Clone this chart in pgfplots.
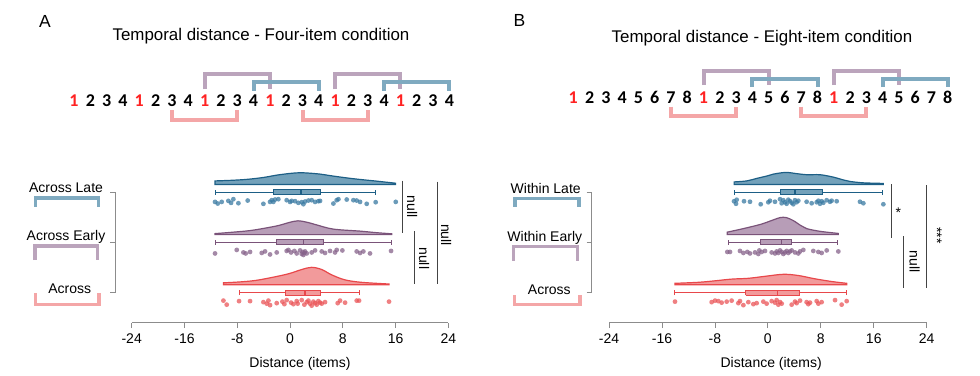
\documentclass[border=0pt]{standalone}
\usepackage{pgfplots}
\usepackage{pgfplotstable}
\pgfplotsset{compat=1.18}
\usepackage{fontspec}
\setmainfont{Liberation Sans}
\newfontfamily\seqfont{Carlito}

\definecolor{lateD}{HTML}{1D5F86}
\definecolor{lateF}{HTML}{73A1BA}
\definecolor{latePt}{HTML}{3A7AA2}
\definecolor{earlyD}{HTML}{7A5379}
\definecolor{earlyF}{HTML}{B79DB7}
\definecolor{earlyPt}{HTML}{86628A}
\definecolor{acrD}{HTML}{E8484B}
\definecolor{acrF}{HTML}{F29A9B}
\definecolor{acrPt}{HTML}{EA5558}
\definecolor{brBlue}{HTML}{7FAAC0}
\definecolor{brPurple}{HTML}{BBA4BC}
\definecolor{brPink}{HTML}{F4A6A7}
\definecolor{axisgray}{HTML}{8C8C8C}
\definecolor{seqred}{HTML}{FF2222}
\definecolor{siggray}{HTML}{444444}

% ---------- violin outlines (x, height in px) ----------
\pgfplotstableread{
x h
-11.37 3.5
-8.6 4.2
-6.3 5.2
-4.0 7.0
-2.0 9.3
0.0 11.0
1.6 11.7
3.5 11.0
4.6 10.3
6.6 8.3
9.6 5.7
13.1 3.3
16.0 1.2
}\vAL
\pgfplotstableread{
x h
-11.37 1.0
-8.0 2.8
-5.56 4.5
-2.02 8.7
-0.2 12.0
1.2 13.8
2.8 12.0
4.04 9.7
6.57 5.5
10.6 3.5
13.0 2.0
15.4 0.8
}\vAE
\pgfplotstableread{
x h
-10.1 2.0
-7.8 2.8
-5.3 4.3
-2.8 7.3
-0.25 11.0
1.77 15.3
3.28 17.5
4.8 15.3
6.3 10.0
8.3 5.0
10.8 2.5
15.0 0.8
}\vAA
\pgfplotstableread{
x h
-5.1 2.5
-3.2 3.5
-1.69 6.0
-0.1 8.5
0.83 10.3
2.7 12.0
4.35 10.8
5.86 9.7
7.88 9.7
9.9 7.3
11.4 4.5
12.4 3.0
14.4 1.6
17.45 1.0
}\vBL
\pgfplotstableread{
x h
-6.12 2.5
-3.7 6.0
-1.08 10.3
0.32 13.5
1.84 17.0
2.8 17.0
3.85 14.0
5.0 9.0
5.86 6.0
7.88 3.3
10.65 1.2
}\vBE
\pgfplotstableread{
x h
-14.03 1.5
-10.5 2.5
-7.98 4.0
-5.47 5.7
-2.95 6.5
-0.43 8.5
2.34 10.5
4.6 9.3
7.12 6.0
9.64 3.3
11.91 1.5
}\vBA

% ---------- individual points ----------
\pgfplotstableread{
x y
-11.37 1.807
-10.96 1.774
-10.36 1.807
-9.35 1.827
-8.94 1.788
-8.59 1.861
-7.83 1.781
-6.42 1.834
-4.04 1.768
-3.03 1.807
-2.78 1.841
-2.53 1.807
-2.27 1.854
-1.77 1.861
-0.51 1.841
0.00 1.807
0.25 1.827
0.76 1.821
1.26 1.788
1.77 1.801
2.02 1.761
2.27 1.814
2.78 1.834
3.28 1.841
3.79 1.807
4.29 1.821
4.55 1.827
6.57 1.774
7.07 1.841
7.33 1.861
8.59 1.854
9.60 1.841
10.10 1.834
10.61 1.807
11.62 1.768
12.98 1.801
16.02 1.807
}\pAL
\pgfplotstableread{
x y
-11.37 0.78
-8.08 0.85
-7.07 0.80
-6.72 0.78
-6.06 0.81
-4.29 0.79
-3.79 0.82
-3.03 0.76
-2.02 0.80
-0.51 0.83
-0.25 0.85
0.15 0.80
0.66 0.83
1.01 0.78
1.52 0.84
1.77 0.77
1.92 0.81
2.02 0.75
2.17 0.79
2.27 0.82
2.53 0.78
3.28 0.80
3.79 0.84
4.80 0.82
5.30 0.79
6.06 0.83
6.82 0.80
7.07 0.85
7.93 0.84
10.10 0.82
10.61 0.79
11.11 0.82
12.12 0.78
15.31 0.83
}\pAE
\pgfplotstableread{
x y
-10.10 -0.16
-9.60 -0.24
-7.73 -0.17
-6.06 -0.17
-4.04 -0.19
-3.54 -0.22
-3.28 -0.16
-3.03 -0.25
-2.02 -0.21
-1.16 -0.18
-0.86 -0.23
-0.51 -0.15
0.15 -0.20
0.51 -0.23
1.01 -0.17
1.16 -0.22
1.77 -0.15
2.17 -0.24
2.53 -0.19
2.78 -0.16
3.03 -0.22
3.28 -0.26
3.54 -0.18
3.79 -0.21
4.04 -0.24
4.29 -0.17
4.55 -0.20
4.80 -0.22
5.30 -0.19
7.22 -0.21
7.58 -0.16
8.34 -0.20
10.10 -0.16
10.46 -0.16
15.00 -0.18
}\pAA
\pgfplotstableread{
x y
-5.11 1.82
-4.81 1.77
-4.71 1.85
-3.60 1.82
-2.70 1.81
-1.08 1.76
0.07 1.80
0.32 1.83
1.08 1.81
1.84 1.86
2.09 1.78
2.34 1.84
2.59 1.80
2.84 1.77
3.09 1.85
3.35 1.82
3.60 1.79
3.85 1.76
4.10 1.84
4.35 1.80
4.60 1.83
5.86 1.81
6.62 1.78
7.38 1.80
7.63 1.83
7.88 1.77
8.13 1.82
8.38 1.79
8.89 1.84
9.39 1.81
9.64 1.83
10.40 1.82
13.92 1.81
14.43 1.78
17.45 1.76
}\pBL
\pgfplotstableread{
x y
-6.12 0.81
-5.72 0.81
-4.21 0.83
-3.70 0.79
-3.10 0.81
-2.70 0.78
-1.94 0.80
-1.44 0.77
-1.29 0.84
-0.93 0.81
-0.43 0.83
0.58 0.80
1.08 0.78
1.33 0.82
1.58 0.79
1.84 0.84
2.09 0.81
2.34 0.77
2.59 0.80
2.84 0.83
3.09 0.79
3.35 0.82
3.60 0.84
4.10 0.80
4.60 0.78
4.86 0.82
5.36 0.85
6.87 0.83
7.63 0.81
8.13 0.79
8.89 0.84
10.65 0.82
}\pBE
\pgfplotstableread{
x y
-14.03 -0.18
-8.49 -0.19
-7.98 -0.16
-7.48 -0.17
-6.98 -0.20
-6.22 -0.18
-5.47 -0.16
-4.46 -0.21
-4.21 -0.17
-3.70 -0.25
-2.95 -0.19
-2.19 -0.23
-1.69 -0.21
-0.68 -0.18
-0.18 -0.22
0.58 -0.17
1.08 -0.20
1.33 -0.15
1.58 -0.24
1.84 -0.19
2.09 -0.22
3.60 -0.24
4.10 -0.18
4.35 -0.21
4.86 -0.16
5.86 -0.19
6.11 -0.23
6.37 -0.20
7.38 -0.17
7.63 -0.22
8.13 -0.19
10.15 -0.15
11.15 -0.24
11.91 -0.17
}\pBA

\pgfplotsset{
  panel/.style={
    scale only axis, height=155.6pt,
    xmin=-24, xmax=24, ymin=-0.6, ymax=2.5,
    axis x line=bottom, axis y line=none,
    x axis line style={-, draw=axisgray, line width=0.8pt},
    xtick={-24,-16,-8,0,8,16,24},
    xticklabels={-24,-16,-8,0,8,16,24},
    tick align=outside, major tick length=5.5pt,
    tick style={draw=axisgray, line width=0.8pt},
    xticklabel style={font=\fontsize{14}{16}\selectfont, text=black, yshift=-1.5pt},
    xlabel={Distance (items)},
    clip=false, anchor=south west,
  },
  pts/.style={only marks, mark=*, mark size=2.4pt, color=#1,
    mark options={fill=#1, draw opacity=0, fill opacity=0.75}},
}

% violin: table, base, x0, x1, colour prefix
\newcommand{\violin}[5]{%
  \addplot[fill=#5F, draw=#5D, line width=1.2pt, smooth, tension=0.55]
    table[x=x, y expr=\thisrow{h}/50.2+#2] {#1}
    -- (axis cs:#4,#2) -- (axis cs:#3,#2) -- cycle;
}
% box: colour, centre, lower edge, upper edge, lw, lq, med, uq, uw
\newcommand{\bx}[9]{%
  \addplot[draw=#1D, line width=1pt] coordinates {(#5,#2) (#6,#2)};
  \addplot[draw=#1D, line width=1pt] coordinates {(#8,#2) (#9,#2)};
  \addplot[draw=#1D, line width=1pt] coordinates {(#5,#3) (#5,#4)};
  \addplot[draw=#1D, line width=1pt] coordinates {(#9,#3) (#9,#4)};
  \addplot[draw=#1D, fill=#1F, line width=1pt] coordinates {(#6,#3) (#8,#3) (#8,#4) (#6,#4) (#6,#3)};
  \addplot[draw=#1D, line width=1.2pt] coordinates {(#7,#3) (#7,#4)};
}

\begin{document}
\begin{tikzpicture}
\useasboundingbox (0pt,0pt) rectangle (980pt,-375pt);

% ================= Panel A =================
\begin{axis}[panel, width=316.7pt, at={(131.7pt,-322.7pt)},
  xlabel style={font=\fontsize{14}{16}\selectfont, at={(axis description cs:0.5315,0)}, anchor=base, yshift=-44.6pt}]
  \violin{\vAL}{2.155}{-11.37}{16.0}{late}
  \bx{late}{2}{1.95}{2.05}{-11.37}{-2.5}{1.67}{4.65}{13.0}
  \addplot[pts=latePt] table {\pAL};
  \violin{\vAE}{1.155}{-11.37}{15.4}{early}
  \bx{early}{1}{0.95}{1.05}{-11.37}{-2.02}{2.02}{5.05}{15.3}
  \addplot[pts=earlyPt] table {\pAE};
  \violin{\vAA}{0.155}{-10.1}{15.0}{acr}
  \bx{acr}{0}{-0.05}{0.05}{-7.73}{-0.76}{2.27}{4.65}{10.46}
  \addplot[pts=acrPt] table {\pAA};
\end{axis}

% ================= Panel B =================
\begin{axis}[panel, width=317.7pt, at={(609pt,-322.7pt)},
  xlabel style={font=\fontsize{14}{16}\selectfont, at={(axis description cs:0.5105,0)}, anchor=base, yshift=-44.6pt}]
  \violin{\vBL}{2.155}{-5.1}{17.45}{late}
  \bx{late}{2}{1.95}{2.05}{-5.11}{1.84}{4.1}{8.28}{17.35}
  \addplot[pts=latePt] table {\pBL};
  \violin{\vBE}{1.155}{-6.12}{10.65}{early}
  \bx{early}{1}{0.95}{1.05}{-5.97}{-1.08}{2.09}{3.6}{10.55}
  \addplot[pts=earlyPt] table {\pBE};
  \violin{\vBA}{0.155}{-14.03}{11.91}{acr}
  \bx{acr}{0}{-0.05}{0.05}{-14.03}{-3.35}{1.48}{4.71}{11.91}
  \addplot[pts=acrPt] table {\pBA};
\end{axis}

\begin{scope}[x=1pt,y=-1pt]
% ---------- panel letters and titles ----------
\node[anchor=base, font=\fontsize{17.5}{19}\selectfont] at (45,27.3) {A};
\node[anchor=base, font=\fontsize{17.5}{19}\selectfont] at (519.5,26.7) {B};
\node[anchor=base, font=\fontsize{16.9}{19}\selectfont] at (261,40.9) {Temporal distance - Four-item condition};
\node[anchor=base, font=\fontsize{16.9}{19}\selectfont] at (762,42.6) {Temporal distance - Eight-item condition};

% ---------- sequences ----------
\foreach \d [count=\i from 0] in {1,2,3,4,1,2,3,4,1,2,3,4,1,2,3,4,1,2,3,4,1,2,3,4}
  \node[anchor=base, inner sep=0pt, font=\seqfont\bfseries\fontsize{18}{19}\selectfont] at ({74+16.32*\i},106) {\ifnum\d=1 \color{seqred}\fi\d};
\foreach \d [count=\i from 0] in {1,2,3,4,5,6,7,8,1,2,3,4,5,6,7,8,1,2,3,4,5,6,7,8}
  \node[anchor=base, inner sep=0pt, font=\seqfont\bfseries\fontsize{18}{19}\selectfont] at ({573.3+16.28*\i},103.3) {\ifnum\d=1 \color{seqred}\fi\d};

\begin{scope}[line width=4pt, line cap=butt, line join=miter]
% panel A brackets
\draw[brPurple] (204.6,89.3)--(204.6,74)--(269.8,74)--(269.8,89.3);
\draw[brPurple] (335.1,89.3)--(335.1,74)--(400.4,74)--(400.4,89.3);
\draw[brBlue] (253.5,90.5)--(253.5,81.7)--(318.8,81.7)--(318.8,90.5);
\draw[brBlue] (384.1,90.5)--(384.1,81.7)--(449.4,81.7)--(449.4,90.5);
\draw[brPink] (171.9,110)--(171.9,119.5)--(237.2,119.5)--(237.2,110);
\draw[brPink] (302.5,110)--(302.5,119.5)--(367.8,119.5)--(367.8,110);
% panel B brackets
\draw[brPurple] (703.5,85)--(703.5,70.8)--(768.7,70.8)--(768.7,85);
\draw[brPurple] (833.8,85)--(833.8,70.8)--(898.9,70.8)--(898.9,85);
\draw[brBlue] (752.4,87)--(752.4,78.8)--(817.5,78.8)--(817.5,87);
\draw[brBlue] (882.6,87)--(882.6,78.8)--(947.7,78.8)--(947.7,87);
\draw[brPink] (671,106.5)--(671,116.3)--(736.1,116.3)--(736.1,106.5);
\draw[brPink] (801.2,106.5)--(801.2,116.3)--(866.3,116.3)--(866.3,106.5);
\end{scope}

% ---------- category labels ----------
\begin{scope}[font=\fontsize{14}{16}\selectfont]
\node[anchor=base] at (66,192.3) {Across Late};
\node[anchor=base] at (66,240.7) {Across Early};
\node[anchor=base] at (69.7,293.3) {Across};
\node[anchor=base] at (545.7,193.3) {Within Late};
\node[anchor=base] at (544.8,241.7) {Within Early};
\node[anchor=base] at (549.3,294) {Across};
\end{scope}
\begin{scope}[line width=3.5pt, line cap=butt, line join=miter]
\draw[brBlue] (35.3,206.7)--(35.3,197.8)--(98.7,197.8)--(98.7,206.7);
\draw[brPurple] (35,260)--(35,246)--(97.5,246)--(97.5,260);
\draw[brPink] (35.5,293.3)--(35.5,304.5)--(98.8,304.5)--(98.8,293.3);
\draw[brBlue] (515,206.7)--(515,198.3)--(579,198.3)--(579,206.7);
\draw[brPurple] (513.3,260.7)--(513.3,246.7)--(577.3,246.7)--(577.3,260.7);
\draw[brPink] (514.7,295)--(514.7,304.5)--(580,304.5)--(580,295);
\end{scope}

% ---------- category axes ----------
\begin{scope}[draw=axisgray, line width=0.8pt]
\draw (115,192.3)--(115,292.7);
\foreach \yy in {192.3,242,292.7} \draw (110,\yy)--(115,\yy);
\draw (591.7,192.3)--(591.7,292.7);
\foreach \yy in {192.3,242,292.7} \draw (586.7,\yy)--(591.7,\yy);
\end{scope}

% ---------- significance ----------
\begin{scope}[draw=siggray, line width=0.9pt]
\draw (402.3,180.7)--(402.3,232.7);
\draw (414.3,231)--(414.3,284.3);
\draw (437.7,181.7)--(437.7,284.3);
\draw (891.7,184)--(891.7,237.7);
\draw (903.3,236)--(903.3,288.3);
\draw (926.7,185)--(926.7,288.3);
\end{scope}
\begin{scope}[font=\fontsize{14}{16}\selectfont]
\node[rotate=-90] at (412,206.7) {null};
\node[rotate=-90] at (424,258.3) {null};
\node[rotate=-90] at (446,235) {null};
\node at (898.3,213) {*};
\node[rotate=-90] at (937,235.5) {***};
\node[rotate=-90] at (914.5,261.7) {null};
\end{scope}
\end{scope}
\end{tikzpicture}
\end{document}
